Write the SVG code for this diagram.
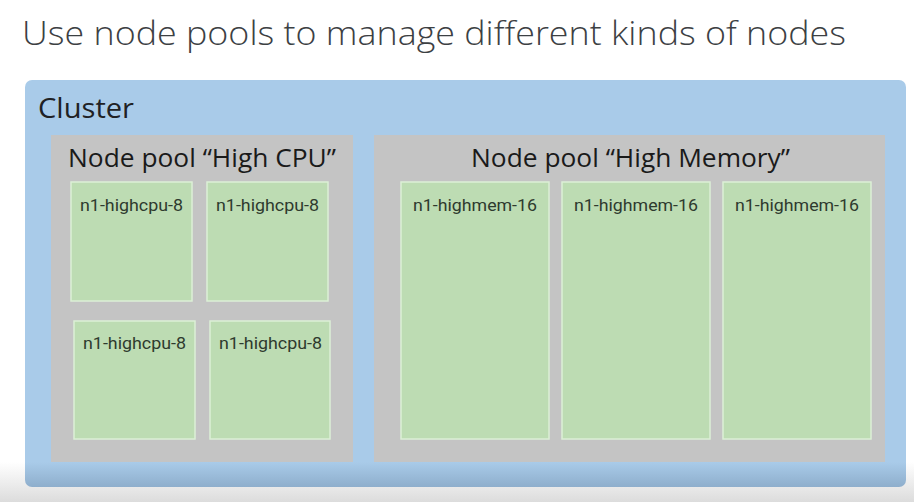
<svg xmlns="http://www.w3.org/2000/svg" width="914" height="502" viewBox="0 0 914 502">
<style>
.title{font-family:"Open Sans","Liberation Sans",sans-serif;fill:#3c4043;font-size:33px;font-weight:300}
.cl{font-family:"Open Sans","Liberation Sans",sans-serif;fill:#202124;font-size:27px}
.pool{fill:#c4c4c4}
.pt{font-family:"Open Sans","Liberation Sans",sans-serif;fill:#1a1a1a;font-size:25px}
.node{fill:#bddcb3;stroke:#dcefd6;stroke-width:1.5}
.nt{font-family:Roboto,"Liberation Sans",sans-serif;fill:#2e3a2e;font-size:17px}
</style>
<defs>
<linearGradient id="bg" x1="0" y1="0" x2="0" y2="1">
<stop offset="0" stop-color="#ffffff"/>
<stop offset="1" stop-color="#dcdcdc"/>
</linearGradient>
<linearGradient id="cb" gradientUnits="userSpaceOnUse" x1="0" y1="80" x2="0" y2="487">
<stop offset="0" stop-color="#a9cbe9"/>
<stop offset="0.939" stop-color="#a9cbe9"/>
<stop offset="1" stop-color="#8eaecc"/>
</linearGradient>
</defs>
<rect x="0" y="0" width="914" height="502" fill="#ffffff"/>
<rect x="0" y="462" width="914" height="40" fill="url(#bg)"/>
<text class="title" x="22" y="45" textLength="824" lengthAdjust="spacingAndGlyphs">Use node pools to manage different kinds of nodes</text>
<g id="cluster">
<rect x="25" y="80" width="881" height="407" rx="7" fill="url(#cb)"/>
<text class="cl" x="38" y="118" textLength="96" lengthAdjust="spacingAndGlyphs">Cluster</text>
</g>
<g id="pool-cpu">
<rect class="pool" x="51" y="135" width="302" height="327"/>
<text class="pt" x="68" y="167" textLength="268" lengthAdjust="spacingAndGlyphs">Node pool “High CPU”</text>
</g>
<g id="pool-mem">
<rect class="pool" x="374" y="135" width="511" height="327"/>
<text class="pt" x="471" y="167" textLength="319" lengthAdjust="spacingAndGlyphs">Node pool “High Memory”</text>
</g>
<g id="cpu1"><rect class="node" x="71" y="182" width="121" height="119"/><text class="nt" x="80" y="211" textLength="103" lengthAdjust="spacingAndGlyphs">n1-highcpu-8</text></g>
<g id="cpu2"><rect class="node" x="207" y="182" width="121" height="119"/><text class="nt" x="216" y="211" textLength="103" lengthAdjust="spacingAndGlyphs">n1-highcpu-8</text></g>
<g id="cpu3"><rect class="node" x="74" y="321" width="121" height="118"/><text class="nt" x="83" y="349" textLength="103" lengthAdjust="spacingAndGlyphs">n1-highcpu-8</text></g>
<g id="cpu4"><rect class="node" x="210" y="321" width="120" height="118"/><text class="nt" x="219" y="349" textLength="103" lengthAdjust="spacingAndGlyphs">n1-highcpu-8</text></g>
<g id="mem1"><rect class="node" x="401" y="182" width="148" height="257"/><text class="nt" x="413" y="211" textLength="124" lengthAdjust="spacingAndGlyphs">n1-highmem-16</text></g>
<g id="mem2"><rect class="node" x="562" y="182" width="148" height="257"/><text class="nt" x="574" y="211" textLength="124" lengthAdjust="spacingAndGlyphs">n1-highmem-16</text></g>
<g id="mem3"><rect class="node" x="723" y="182" width="148" height="257"/><text class="nt" x="735" y="211" textLength="124" lengthAdjust="spacingAndGlyphs">n1-highmem-16</text></g>
<g id="connectors"></g>
</svg>
